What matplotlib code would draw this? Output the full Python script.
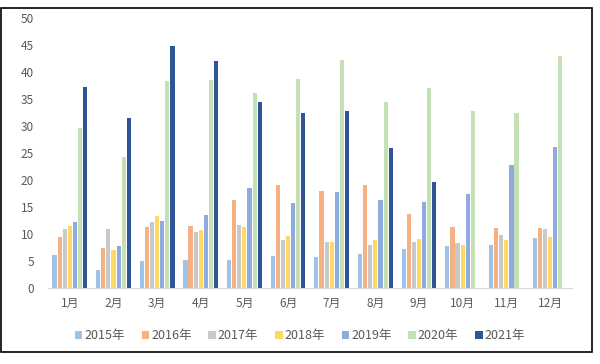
import matplotlib
matplotlib.use("Agg")
import matplotlib.pyplot as plt
import numpy as np
from matplotlib.patches import Rectangle

plt.rcParams['font.family'] = ['Noto Sans CJK SC', 'DejaVu Sans']

months = ['1月', '2月', '3月', '4月', '5月', '6月', '7月', '8月', '9月', '10月', '11月', '12月']
years = ['2015年', '2016年', '2017年', '2018年', '2019年', '2020年', '2021年']
v2015 = [6.2, 3.4, 5.1, 5.3, 5.3, 6.0, 5.8, 6.4, 7.3, 7.9, 8.1, 9.4]
v2016 = [9.5, 7.4, 11.4, 11.6, 16.3, 19.2, 18.1, 19.1, 13.8, 11.4, 11.1, 11.1]
v2017 = [11.0, 11.0, 12.2, 10.5, 11.8, 8.9, 8.6, 8.1, 8.6, 8.3, 9.8, 11.0]
v2018 = [11.5, 7.0, 13.3, 10.7, 11.4, 9.6, 8.6, 9.0, 9.2, 8.1, 9.0, 9.5]
v2019 = [12.2, 7.9, 12.4, 13.6, 18.5, 15.8, 17.8, 16.3, 16.0, 17.5, 22.9, 26.1]
v2020 = [29.6, 24.3, 38.3, 38.6, 36.2, 38.8, 42.3, 34.4, 37.0, 32.9, 32.4, 43.0]
v2021 = [37.2, 31.6, 44.9, 42.1, 34.4, 32.4, 32.9, 25.9, 19.6, None, None, None]
series = [v2015, v2016, v2017, v2018, v2019, v2020, v2021]
colors = ['#9DC3E6', '#F4B183', '#C9C9C9', '#FFD966', '#8FAADC', '#C5E0B4', '#2F5597']

fig = plt.figure(figsize=(6.0, 3.64), dpi=100)
ax = fig.add_axes([0.08, 0.208, 0.873, 0.742])

x = np.arange(len(months))
slot = 0.117
bw = 0.095
for i, (vals, c, lab) in enumerate(zip(series, colors, years)):
    xs = [xi + (i - 3) * slot for xi, v in zip(x, vals) if v is not None]
    ys = [v for v in vals if v is not None]
    ax.bar(xs, ys, width=bw, color=c, label=lab, zorder=2)

ax.set_xlim(-0.5, len(months) - 0.5)
ax.set_ylim(0, 50)
ax.set_yticks(range(0, 51, 5))
ax.set_xticks(x)
ax.set_xticklabels(months)
for s in ['top', 'right', 'left']:
    ax.spines[s].set_visible(False)
ax.spines['bottom'].set_color('#D9D9D9')
ax.tick_params(axis='both', length=0, colors='#595959', labelsize=8.5)
ax.tick_params(axis='x', pad=6)
ax.tick_params(axis='y', pad=10)

leg = fig.legend(loc='center', bbox_to_anchor=(0.5, 0.077), ncol=7, frameon=False,
                 fontsize=9, handlelength=0.6, handleheight=0.6, handletextpad=0.15,
                 columnspacing=1.35)
for t in leg.get_texts():
    t.set_color('#595959')

# outer frame
fig.patches.append(Rectangle((0.002, 0.033), 0.985, 0.945, transform=fig.transFigure,
                             fill=False, edgecolor='black', linewidth=1.2))

fig.savefig('out.png', dpi=100)
